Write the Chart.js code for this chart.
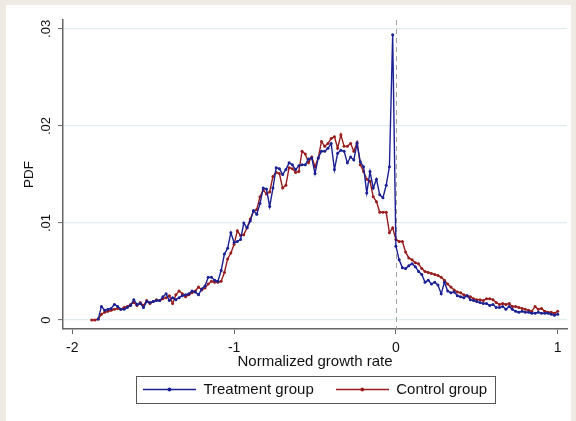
<!DOCTYPE html>
<html><head><meta charset="utf-8">
<script src="https://cdn.jsdelivr.net/npm/chart.js@4.4.1/dist/chart.umd.min.js"></script>
<style>
html,body{margin:0;padding:0;background:#f0eae5;width:576px;height:421px;overflow:hidden}
#panel{position:absolute;left:6px;top:5px;width:565px;height:416px;background:#fff}
canvas{display:block}
</style></head><body>
<div id="panel"><canvas id="c" width="565" height="416"></canvas></div>
<script>
// Normalized growth rate (bin positions)
const growthRate = [
-1.88,-1.86,-1.84,-1.82,-1.80,-1.78,-1.76,-1.74,-1.72,-1.70,
-1.68,-1.66,-1.64,-1.62,-1.60,-1.58,-1.56,-1.54,-1.52,-1.50,
-1.48,-1.46,-1.44,-1.42,-1.40,-1.38,-1.36,-1.34,-1.32,-1.30,
-1.28,-1.26,-1.24,-1.22,-1.20,-1.18,-1.16,-1.14,-1.12,-1.10,
-1.08,-1.06,-1.04,-1.02,-1.00,-0.98,-0.96,-0.94,-0.92,-0.90,
-0.88,-0.86,-0.84,-0.82,-0.80,-0.78,-0.76,-0.74,-0.72,-0.70,
-0.68,-0.66,-0.64,-0.62,-0.60,-0.58,-0.56,-0.54,-0.52,-0.50,
-0.48,-0.46,-0.44,-0.42,-0.40,-0.38,-0.36,-0.34,-0.32,-0.30,
-0.28,-0.26,-0.24,-0.22,-0.20,-0.18,-0.16,-0.14,-0.12,-0.10,
-0.08,-0.06,-0.04,-0.02,0.00,
0.02,0.04,0.06,0.08,0.10,0.12,0.14,0.16,0.18,0.20,
0.22,0.24,0.26,0.28,0.30,0.32,0.34,0.36,0.38,0.40,
0.42,0.44,0.46,0.48,0.50,0.52,0.54,0.56,0.58,0.60,
0.62,0.64,0.66,0.68,0.70,0.72,0.74,0.76,0.78,0.80,
0.82,0.84,0.86,0.88,0.90,0.92,0.94,0.96,0.98,1.00
];
// PDF, Treatment group
const treatmentPDF = [
null,null,.0001,.0014,.0010,.0011,.0012,.0016,.0014,.0011,
.0011,.0013,.0015,.0021,.0016,.0017,.0013,.0019,.0018,.0019,
.0020,.0020,.0024,.0027,.0020,.0023,.0021,.0023,.0025,.0026,
.0027,.0030,.0029,.0026,.0032,.0035,.0044,.0044,.0041,.0040,
.0051,.0068,.0074,.0090,.0080,.0081,.0083,.0100,.0095,.0102,
.0113,.0109,.0120,.0136,.0135,.0117,.0136,.0157,.0156,.0150,
.0155,.0162,.0160,.0155,.0159,.0160,.0160,.0166,.0167,.0151,
.0167,.0174,.0174,.0177,.0182,.0155,.0172,.0175,.0174,.0162,
.0168,.0165,.0182,.0163,.0158,.0131,.0153,.0136,.0145,.0129,
.0126,.0139,.0158,.0294,.0076,
.0062,.0054,.0053,.0056,.0058,.0055,.0050,.0047,.0039,.0041,
.0037,.0039,.0036,.0027,.0039,.0030,.0028,.0029,.0025,.0024,
.0023,.0025,.0021,.0020,.0019,.0018,.0017,.0017,.0015,.0016,
.0013,.0013,.0014,.0011,.0014,.0011,.0009,.0008,.0009,.0008,
.0008,.0007,.0007,.0008,.0007,.0007,.0007,.0006,.0005,.0006
];
// PDF, Control group
const controlPDF = [
.0000,.0000,.0001,.0006,.0008,.0009,.0010,.0011,.0012,.0011,
.0013,.0014,.0016,.0018,.0015,.0018,.0015,.0020,.0017,.0019,
.0021,.0020,.0022,.0023,.0025,.0017,.0026,.0030,.0027,.0024,
.0026,.0028,.0030,.0034,.0031,.0033,.0037,.0040,.0039,.0039,
.0040,.0049,.0063,.0069,.0078,.0092,.0087,.0088,.0095,.0104,
.0112,.0114,.0127,.0134,.0130,.0132,.0148,.0152,.0151,.0136,
.0139,.0157,.0156,.0152,.0153,.0174,.0171,.0162,.0168,.0158,
.0167,.0184,.0179,.0182,.0187,.0189,.0177,.0191,.0179,.0179,
.0182,.0174,.0183,.0160,.0153,.0145,.0143,.0127,.0122,.0111,
.0111,.0111,.0090,.0095,.0083,
.0081,.0081,.0070,.0064,.0062,.0059,.0058,.0053,.0050,.0049,
.0048,.0047,.0046,.0044,.0041,.0037,.0034,.0031,.0029,.0028,
.0026,.0025,.0024,.0022,.0021,.0021,.0020,.0022,.0022,.0021,
.0018,.0016,.0017,.0016,.0017,.0014,.0014,.0013,.0012,.0011,
.0010,.0009,.0014,.0011,.0012,.0009,.0008,.0008,.0007,.0009
];
const seriesNames = ['Treatment group', 'Control group'];
const xTickValues = [-2, -1, 0, 1];
const xTickLabels = ['-2', '-1', '0', '1'];
const yTickValues = [0, 0.01, 0.02, 0.03];
const yTickLabels = ['0', '.01', '.02', '.03'];
const xTitle = 'Normalized growth rate';
const yTitle = 'PDF';
const referenceLineAt = 0;

const BLUE = '#1a2092';
const RED = '#981c1c';
const FONT = "'Liberation Sans', Arial, sans-serif";
const AXIS = '#666666';

function legendImage(color) {
  const c = document.createElement('canvas');
  c.width = 53; c.height = 7;
  const g = c.getContext('2d');
  g.strokeStyle = color; g.lineWidth = 1.4;
  g.beginPath(); g.moveTo(0, 3.5); g.lineTo(53, 3.5); g.stroke();
  g.fillStyle = color; g.beginPath(); g.arc(26.5, 3.5, 1.9, 0, Math.PI * 2); g.fill();
  return c;
}

const refLinePlugin = {
  id: 'refLine',
  beforeDatasetsDraw(chart) {
    const {ctx, chartArea, scales} = chart;
    const x = Math.round(scales.x.getPixelForValue(referenceLineAt)) + 0.5;
    ctx.save();
    ctx.strokeStyle = '#a0a0a0'; ctx.lineWidth = 1; ctx.setLineDash([5, 4]);
    ctx.beginPath(); ctx.moveTo(x, chartArea.top); ctx.lineTo(x, chartArea.bottom); ctx.stroke();
    ctx.restore();
  }
};
const legendBoxPlugin = {
  id: 'legendBox',
  afterDraw(chart) {
    const hb = chart.legend && chart.legend.legendHitBoxes;
    if (!hb || !hb.length) return;
    const first = hb[0], last = hb[hb.length - 1];
    const left = Math.round(first.left - 7) + 0.5;
    const right = Math.round(last.left + last.width + 8) + 0.5;
    const cy = first.top + first.height / 2;
    const top = Math.round(cy - 13.5) + 0.5;
    const ctx = chart.ctx;
    ctx.save();
    ctx.strokeStyle = '#555'; ctx.lineWidth = 1;
    ctx.strokeRect(left, top, right - left, 27);
    ctx.restore();
  }
};

new Chart(document.getElementById('c'), {
  type: 'line',
  data: {
    datasets: [
      { label: seriesNames[0], data: growthRate.map((x, i) => ({x, y: treatmentPDF[i]})),
        borderColor: BLUE, backgroundColor: BLUE, borderWidth: 1.4, pointRadius: 1.5,
        pointBorderWidth: 0, pointBackgroundColor: BLUE, tension: 0 },
      { label: seriesNames[1], data: growthRate.map((x, i) => ({x, y: controlPDF[i]})),
        borderColor: RED, backgroundColor: RED, borderWidth: 1.4, pointRadius: 1.5,
        pointBorderWidth: 0, pointBackgroundColor: RED, tension: 0 }
    ]
  },
  options: {
    responsive: false, animation: false, devicePixelRatio: 1,
    layout: { padding: { top: 15, left: 0, right: 4, bottom: 14 } },
    plugins: {
      tooltip: { enabled: false },
      legend: {
        position: 'bottom', fullSize: false,
        labels: {
          usePointStyle: true, pointStyleWidth: 53, padding: 22, color: '#111',
          font: { family: FONT, size: 15 },
          generateLabels: (chart) => chart.data.datasets.map((ds, i) => ({
            text: ds.label, pointStyle: legendImage(ds.borderColor), fillStyle: ds.borderColor,
            strokeStyle: ds.borderColor, lineWidth: 0, hidden: false, datasetIndex: i, fontColor: '#111'
          }))
        }
      }
    },
    scales: {
      x: {
        type: 'linear', min: -2.0575, max: 1.0575,
        afterBuildTicks: (s) => { s.ticks = xTickValues.map(v => ({value: v})); },
        afterFit: (s) => { s.height = 31; },
        ticks: { color: '#111', font: { family: FONT, size: 14 }, padding: 6, maxRotation: 0,
          callback: (v) => xTickLabels[xTickValues.indexOf(v)] },
        grid: { display: true, drawOnChartArea: false, drawTicks: true, tickLength: 5, tickColor: AXIS, tickWidth: 1 },
        border: { display: true, color: AXIS, width: 1.5 },
        title: { display: true, text: xTitle, color: '#111', font: { family: FONT, size: 15 }, padding: { top: 0, bottom: -11 } }
      },
      y: {
        type: 'linear', min: -0.000925, max: 0.03092,
        afterBuildTicks: (s) => { s.ticks = yTickValues.map(v => ({value: v})); },
        afterFit: (s) => { s.width = 57; },
        ticks: { color: '#111', font: { family: FONT, size: 13 }, padding: 3, minRotation: 90, maxRotation: 90,
          crossAlign: 'center', callback: (v) => yTickLabels[yTickValues.indexOf(v)] },
        grid: { display: true, drawOnChartArea: true, drawTicks: true, tickLength: 5, color: '#e2ecee', lineWidth: 1.2, tickColor: AXIS, tickWidth: 1 },
        border: { display: true, color: AXIS, width: 1.5 },
        title: { display: true, text: yTitle, color: '#111', font: { family: FONT, size: 13.5 }, padding: { top: 15, bottom: 0 } }
      }
    }
  },
  plugins: [refLinePlugin, legendBoxPlugin]
});
</script>
</body></html>
